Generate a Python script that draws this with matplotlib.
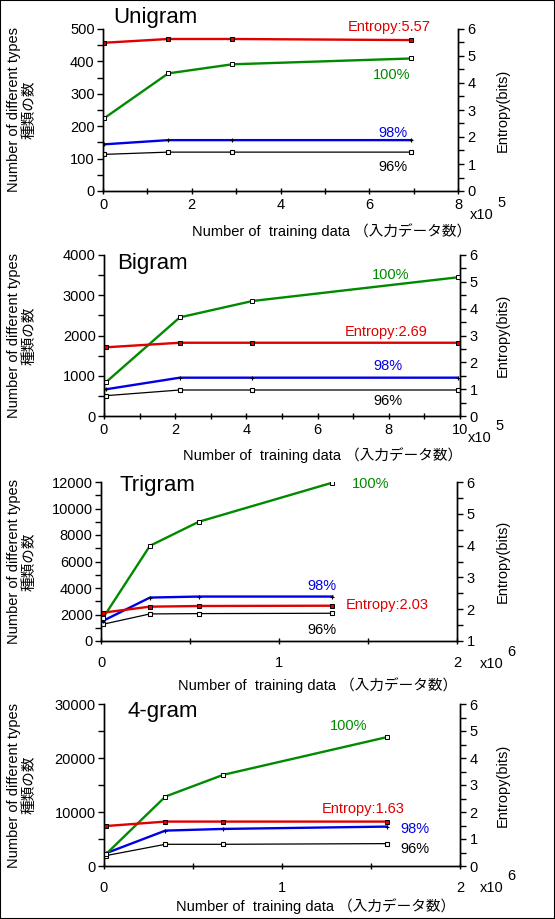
import numpy as np
import matplotlib.pyplot as plt
from matplotlib.ticker import MultipleLocator
from matplotlib.patches import Rectangle

plt.rcParams['font.family'] = ['Liberation Sans', 'Noto Sans CJK JP', 'DejaVu Sans']

W, H = 555, 919

# ---- data (x in units of the axis multiplier) ----
titles = ['Unigram', 'Bigram', 'Trigram', '4-gram']
x_mult = ['5', '5', '6', '6']

uni_x = [0.02, 1.47, 2.91, 6.95]
uni_100 = [224, 363, 391, 409]
uni_98 = [144, 157, 157, 157]
uni_96 = [113, 120, 120, 120]
uni_ent = [5.49, 5.63, 5.63, 5.59]

bi_x = [0.05, 2.13, 4.17, 9.93]
bi_100 = [836, 2451, 2857, 3445]
bi_98 = [663, 952, 952, 952]
bi_96 = [505, 646, 646, 646]
bi_ent = [2.56, 2.73, 2.73, 2.73]

tri_x = [0.01, 0.275, 0.55, 1.30]
tri_100 = [1715, 7186, 9002, 11950]
tri_98 = [1513, 3278, 3354, 3354]
tri_96 = [1261, 2043, 2068, 2093]
tri_ent = [1.89, 2.08, 2.10, 2.11]

four_x = [0.01, 0.345, 0.67, 1.59]
four_100 = [2165, 12863, 16883, 23871]
four_98 = [2350, 6555, 6865, 7298]
four_96 = [1917, 4020, 4020, 4144]
four_ent = [1.48, 1.645, 1.645, 1.645]

entropy_labels = ['Entropy:5.57', 'Entropy:2.69', 'Entropy:2.03', 'Entropy:1.63']

GREEN = '#008a00'
RED = '#e00000'
BLUE = '#0000e6'
BLACK = '#000000'

fig = plt.figure(figsize=(W / 100, H / 100), dpi=100)


def fx(px):
    return px / W


def fy(py):
    return 1 - py / H


def ftext(px, py, s, **kw):
    fig.text(fx(px), fy(py), s, **kw)


# panel layout in pixels: left, right, top, bottom
boxes = [(103, 458, 29, 191), (104, 460, 255, 416), (101, 457, 482, 641), (104, 460, 704, 866)]
panels = [
    (uni_x, uni_100, uni_98, uni_96, uni_ent, (0, 8), 2, 1, (0, 500), 100, 50, (0, 6)),
    (bi_x, bi_100, bi_98, bi_96, bi_ent, (0, 10), 2, 1, (0, 4000), 1000, 500, (0, 6)),
    (tri_x, tri_100, tri_98, tri_96, tri_ent, (0, 2), 1, 0.5, (0, 12000), 2000, 1000, (1, 6)),
    (four_x, four_100, four_98, four_96, four_ent, (0, 2), 1, 0.5, (0, 30000), 10000, 5000, (0, 6)),
]

for i, (box, p) in enumerate(zip(boxes, panels)):
    l, r, t, b = box
    x, g, bl, k, ent, xlim, xmaj, xmin, ylim, ymaj, ymin, elim = p
    ax = fig.add_axes([fx(l), fy(b), (r - l) / W, (b - t) / H])
    ax2 = ax.twinx()

    ax.plot(x, k, color=BLACK, lw=0.9, marker='s', ms=3.5, mfc='white', mec=BLACK, mew=0.8, zorder=3)
    ax.plot(x, bl, color=BLUE, lw=1.7, marker='+', ms=3, mec=BLACK, mew=0.8, zorder=3)
    ax.plot(x, g, color=GREEN, lw=1.7, marker='s', ms=3, mfc='white', mec=BLACK, mew=0.7, zorder=4)
    ax2.plot(x, ent, color=RED, lw=1.7, marker='s', ms=3.5, mfc=RED, mec=BLACK, mew=0.7)

    ax.set_xlim(*xlim)
    ax.set_ylim(*ylim)
    ax2.set_ylim(*elim)
    ax.xaxis.set_major_locator(MultipleLocator(xmaj))
    ax.xaxis.set_minor_locator(MultipleLocator(xmin))
    ax.yaxis.set_major_locator(MultipleLocator(ymaj))
    ax.yaxis.set_minor_locator(MultipleLocator(ymin))
    ax2.yaxis.set_major_locator(MultipleLocator(1))
    ax2.yaxis.set_minor_locator(MultipleLocator(0.5))

    xpad = 3 if i < 2 else 9
    ax.tick_params(axis='x', which='both', direction='inout', length=4, width=1, pad=xpad, labelsize=10.5)
    ax.tick_params(axis='y', which='both', direction='out', length=4, width=1, pad=2, labelsize=10.5)
    ax2.tick_params(axis='y', which='both', direction='out', length=4, width=1, pad=3, labelsize=10.5)

    for a in (ax, ax2):
        a.spines['top'].set_visible(False)
        for s in ('left', 'right', 'bottom'):
            a.spines[s].set_linewidth(1)
    ax.patch.set_alpha(0)

    # titles and labels
    ttl_pos = [(113, 18), (117, 263), (120, 485), (127, 712)][i]
    ftext(*ttl_pos, titles[i], fontsize=16, va='center', ha='left')

    mid = (t + b) / 2
    ftext(22, mid, 'Number of different types\n種類の数', rotation=90, fontsize=10.5,
          ha='center', va='center', linespacing=1.15, multialignment='center')
    ftext(503, mid, 'Entropy(bits)', rotation=90, fontsize=10.5, ha='center', va='center')

    xl_pos = [(192, 231), (183, 455), (178, 685), (176, 906)][i]
    ftext(*xl_pos, 'Number of  training data （入力データ数）', fontsize=10.5, ha='left', va='center')

    xm_pos = [(470, 215), (468, 438), (480, 664), (480, 888)][i]
    ftext(*xm_pos, 'x10', fontsize=10.5, ha='left', va='center')
    ftext(xm_pos[0] + 27, xm_pos[1] - 12, x_mult[i], fontsize=10.5, ha='left', va='center')

    # curve labels
    lab = [
        [(348, 27, entropy_labels[0], RED), (373, 75, '100%', GREEN), (378, 133, '98%', BLUE), (378, 167, '96%', BLACK)],
        [(372, 275, '100%', GREEN), (345, 332, entropy_labels[1], RED), (373, 366, '98%', BLUE), (373, 401, '96%', BLACK)],
        [(352, 484, '100%', GREEN), (307, 586, '98%', BLUE), (346, 605, entropy_labels[2], RED), (307, 630, '96%', BLACK)],
        [(330, 726, '100%', GREEN), (322, 809, entropy_labels[3], RED), (400, 829, '98%', BLUE), (400, 849, '96%', BLACK)],
    ][i]
    for px, py, s, c in lab:
        ftext(px, py, s, color=c, fontsize=10.5, ha='left', va='center')

# outer frame
fig.patches.append(Rectangle((0, 0), 1, 1, transform=fig.transFigure, fill=False,
                             edgecolor='black', linewidth=1.5))

fig.savefig('out.png', dpi=100)
